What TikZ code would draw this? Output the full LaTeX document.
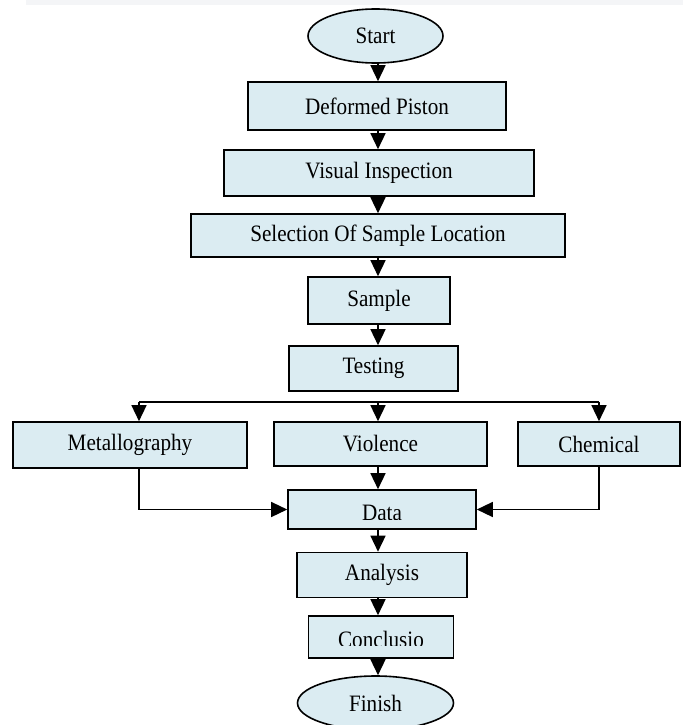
\documentclass[tikz,border=0pt]{standalone}
\usepackage{fontspec}
\setmainfont[FakeStretch=0.9]{Liberation Serif}
\usetikzlibrary{shapes.geometric,arrows.meta}
\definecolor{boxfill}{RGB}{219,236,242}
\definecolor{bandgray}{RGB}{244,245,247}
\begin{document}
\begin{tikzpicture}[x=1pt,y=-1pt,
  box/.style={draw=black, line width=1.6pt, fill=boxfill, rectangle, inner sep=0pt, font=\fontsize{23.5}{28}\selectfont},
  oval/.style={draw=black, line width=1.6pt, fill=boxfill, ellipse, inner sep=0pt, font=\fontsize{23.5}{28}\selectfont},
  txt/.style={inner sep=0pt, font=\fontsize{23.5}{28}\selectfont},
  arr/.style={line width=1.4pt, -{Triangle[length=16pt,width=15pt]}},
  ln/.style={line width=1.4pt}]
\useasboundingbox (0,0) rectangle (683,725);
\fill[bandgray] (26,0) rectangle (683,5.5);
\coordinate (ax) at (378,0);
\coordinate (hl) at (139,402);
\coordinate (hr) at (599,402);
% nodes
\node[oval, minimum width=135, minimum height=54] (start) at (375.5,36) {Start};
\node[box, minimum width=258, minimum height=48] (dp) at (377,106) {Deformed Piston};
\node[box, minimum width=310, minimum height=46] (vi) at (379,173) {Visual Inspection};
\node[box, minimum width=374, minimum height=43] (sel) at (378,235.5) {Selection Of Sample Location};
\node[box, minimum width=142, minimum height=47] (samp) at (379,300.5) {Sample};
\node[box, minimum width=169, minimum height=45] (test) at (373.5,368.5) {Testing};
\node[box, minimum width=234, minimum height=46] (met) at (130,445) {Metallography};
\node[box, minimum width=213, minimum height=44] (vio) at (380.5,444) {Violence};
\node[box, minimum width=162, minimum height=44] (chem) at (599,444) {Chemical};
\node[box, minimum width=188, minimum height=39] (data) at (382,509.5) {};
\begin{scope}
  \clip (289,491) rectangle (475,519);
  \node[txt, anchor=base] (datat) at (382,520.5) {Data};
\end{scope}
\node[box, minimum width=170, minimum height=45] (ana) at (382,575) {Analysis};
\node[box, minimum width=145, minimum height=42] (conc) at (381,637) {};
\begin{scope}
  \clip (310,617) rectangle (452,645.5);
  \node[txt, anchor=base] (conct) at (381,647) {Conclusio};
\end{scope}
\node[oval, minimum width=156, minimum height=54] (finish) at (375.5,703) {Finish};
% connectors
\draw[arr] (start.south -| ax) -- (dp.north -| ax);
\draw[arr] (dp.south -| ax) -- (vi.north -| ax);
\draw[arr] (vi.south -| ax) -- (sel.north -| ax);
\draw[arr] (sel.south -| ax) -- (samp.north -| ax);
\draw[arr] (samp.south -| ax) -- (test.north -| ax);
\draw[ln] (hl) -- (hr);
\draw[arr] (hl) -- (met.north -| hl);
\draw[arr] (hl -| ax) -- (vio.north -| ax);
\draw[arr] (hr) -- (chem.north -| hr);
\draw[arr] (vio.south -| ax) -- (data.north -| ax);
\draw[arr] (met.south -| hl) |- (data.west);
\draw[arr] (chem.south -| hr) |- (data.east);
\draw[arr] (data.south -| ax) -- (ana.north -| ax);
\draw[arr] (ana.south -| ax) -- (conc.north -| ax);
\draw[arr] (conc.south -| ax) -- (finish.north -| ax);
\end{tikzpicture}
\end{document}
